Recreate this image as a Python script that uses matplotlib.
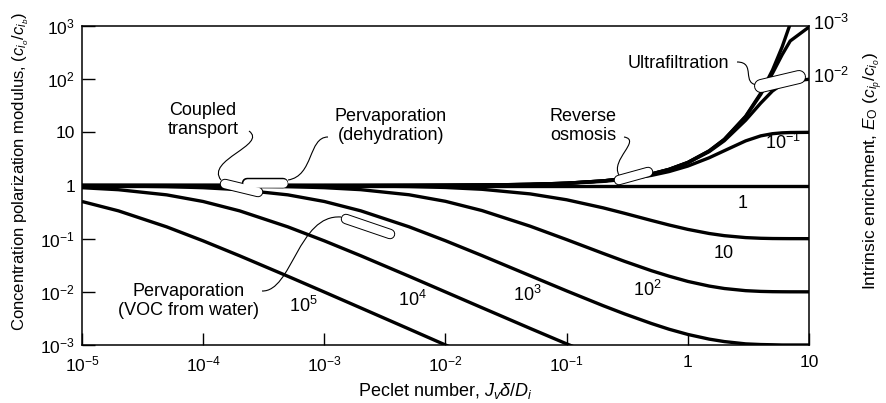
import numpy as np
import matplotlib
matplotlib.use("Agg")
import matplotlib.pyplot as plt
from matplotlib.path import Path
from matplotlib.patches import PathPatch

plt.rcParams['font.family'] = ['Liberation Sans', 'DejaVu Sans']
plt.rcParams['mathtext.fontset'] = 'custom'
plt.rcParams['mathtext.rm'] = 'Liberation Sans'
plt.rcParams['mathtext.it'] = 'Liberation Sans:italic'
plt.rcParams['mathtext.bf'] = 'Liberation Sans:bold'

nan = np.nan
# Peclet number sample points
peclet = [1e-5, 2e-5, 5e-5, 1e-4, 2e-4, 5e-4, 1e-3, 2e-3, 5e-3, 1e-2, 2e-2, 5e-2,
          0.1, 0.2, 0.3, 0.5, 0.7, 1, 1.5, 2, 3, 4, 5, 6, 7, 10]

# concentration polarization modulus for each intrinsic enrichment E0
mod_E0_0 = [1.0, 1.0, 1.0, 1.0001, 1.0002, 1.0005, 1.001, 1.002, 1.005, 1.01, 1.0202, 1.0513,
            1.1052, 1.2214, 1.3499, 1.6487, 2.0138, 2.7183, 4.4817, 7.389, 20.09, 54.6, 148.4,
            403.4, 1096.6, nan]
mod_E0_1em3 = [1.0, 1.0, 1.0, 1.0001, 1.0002, 1.0005, 1.001, 1.002, 1.005, 1.01, 1.0202, 1.0512,
               1.1050, 1.2211, 1.3494, 1.6476, 2.0117, 2.7136, 4.466, 7.342, 19.71, 51.82, 129.4,
               287.7, 523.3, 956.6]
mod_E0_1em2 = [1.0, 1.0, 1.0, 1.0001, 1.0002, 1.0005, 1.001, 1.002, 1.005, 1.01, 1.0200, 1.0507,
               1.1040, 1.2187, 1.3452, 1.6381, 1.9935, 2.6724, 4.331, 6.945, 16.87, 35.55, 59.99,
               80.30, 91.72, 99.55]
mod_E0_1em1 = [1.0, 1.0, 1.0, 1.0001, 1.0002, 1.0005, 1.0009, 1.0018, 1.0045, 1.009, 1.0181, 1.0459,
               1.0937, 1.1949, 1.3042, 1.5483, 1.8284, 2.3197, 3.324, 4.509, 6.906, 8.585, 9.428,
               9.782, 9.918, 9.996]
mod_E0_1 = [1.0] * 26
mod_E0_10 = [0.9999, 0.9998, 0.9996, 0.9991, 0.9982, 0.9955, 0.9911, 0.9823, 0.9570, 0.9178, 0.8488,
             0.6950, 0.5387, 0.3800, 0.3001, 0.2202, 0.1808, 0.1495, 0.1251, 0.1139, 0.1047,
             0.1017, 0.1006, 0.1003, 0.1001, 0.1000]
mod_E0_1e2 = [0.9990, 0.9980, 0.9951, 0.9902, 0.9806, 0.9529, 0.9100, 0.8349, 0.6695, 0.5038, 0.3378,
              0.1716, 0.0960, 0.0528, 0.0375, 0.0250, 0.0197, 0.0157, 0.01284, 0.01155, 0.01052,
              0.01019, 0.01007, 0.01003, 0.01001, 0.0100]
mod_E0_1e3 = [0.9901, 0.9804, 0.9524, 0.9092, 0.8335, 0.6669, 0.5004, 0.3338, 0.1672, 0.0914, 0.0481,
              0.0201, 0.01041, 0.00549, 0.00385, 0.00254, 0.00198, 0.00158, 0.00129, 0.00116,
              0.00105, 0.00102, 0.00101, 0.00100, 0.00100, 0.00100]
mod_E0_1e4 = [0.9091, 0.8334, 0.6667, 0.5001, 0.3334, 0.1667, 0.0910, 0.0477, 0.01966, 0.00995,
              0.00503, 0.00205, 0.00105, 0.000551] + [nan] * 12
mod_E0_1e5 = [0.5000, 0.3333, 0.1667, 0.0909, 0.0476, 0.01962, 0.00991, 0.00498, 0.00200, 0.00100,
              0.000505] + [nan] * 15

series = [mod_E0_0, mod_E0_1em3, mod_E0_1em2, mod_E0_1em1, mod_E0_1, mod_E0_10,
          mod_E0_1e2, mod_E0_1e3, mod_E0_1e4, mod_E0_1e5]

x_ticks = [1e-5, 1e-4, 1e-3, 1e-2, 1e-1, 1, 10]
x_ticklabels = [r'$10^{-5}$', r'$10^{-4}$', r'$10^{-3}$', r'$10^{-2}$', r'$10^{-1}$', '1', '10']
y_ticks = [1e-3, 1e-2, 1e-1, 1, 10, 1e2, 1e3]
y_ticklabels = [r'$10^{-3}$', r'$10^{-2}$', r'$10^{-1}$', '1', '10', r'$10^{2}$', r'$10^{3}$']

W, H = 887, 403
L, R, T, B = 82, 809, 26, 345
fig = plt.figure(figsize=(W / 100, H / 100), dpi=100)
ax = fig.add_axes([L / W, 1 - B / H, (R - L) / W, (B - T) / H])


def P(px, py):
    return ((px - L) / (R - L), (B - py) / (B - T))


for s in series:
    ax.plot(peclet, s, color='black', lw=2.4, solid_capstyle='butt', zorder=3)

ax.set_xscale('log')
ax.set_yscale('log')
ax.set_xlim(1e-5, 10)
ax.set_ylim(1e-3, 1e3)
ax.set_xticks(x_ticks)
ax.set_xticklabels(x_ticklabels)
ax.set_yticks(y_ticks)
ax.set_yticklabels(y_ticklabels)
ax.minorticks_off()
ax.tick_params(direction='in', length=9, width=1.0, labelsize=12.5, pad=5)
ax.tick_params(axis='x', pad=7)
for sp in ax.spines.values():
    sp.set_linewidth(1.1)

fs = 13
fig.text(445 / W, 1 - 391 / H, r'Peclet number, $J_v\delta/D_i$', ha='center', va='center',
         fontsize=fs)
fig.text(21 / W, 1 - 172 / H, r'Concentration polarization modulus, $(c_{i_o}/c_{i_b})$',
         rotation=90, ha='center', va='center', fontsize=12)
fig.text(873 / W, 1 - 171 / H, r'Intrinsic enrichment, $E_\mathrm{O}$ $(c_{i_p}/c_{i_o})$',
         rotation=90, ha='center', va='center', fontsize=12.5)

# curve labels
curve_labels = [(r'$10^{5}$', 303, 306), (r'$10^{4}$', 412, 300), (r'$10^{3}$', 527, 295),
                (r'$10^{2}$', 647, 290), ('10', 724, 254), ('1', 743, 203),
                (r'$10^{-1}$', 783, 143)]
for txt, px, py in curve_labels:
    ax.text(*P(px, py), txt, transform=ax.transAxes, ha='center', va='center', fontsize=fs)
for txt, py in [(r'$10^{-3}$', 24), (r'$10^{-2}$', 77)]:
    ax.text(*P(813, py), txt, transform=ax.transAxes, ha='left', va='center', fontsize=fs,
            clip_on=False)

# process labels
proc = [('Coupled\ntransport', 203, 120, 'center'),
        ('Pervaporation\n(dehydration)', 391, 126, 'center'),
        ('Reverse\nosmosis', 550, 126, 'left'),
        ('Ultrafiltration', 678, 63, 'center'),
        ('Pervaporation\n(VOC from water)', 189, 301, 'center')]
for txt, px, py, ha in proc:
    ax.text(*P(px, py), txt, transform=ax.transAxes, ha=ha, va='center', fontsize=fs,
            linespacing=1.1)

# capsules (operating regions)
caps = [((225, 184), (258, 192), 8.5),
        ((247, 183), (283, 183), 8.5),
        ((346, 219), (390, 234), 8.5),
        ((619, 180), (648, 172), 8.5),
        ((761, 86), (799, 77), 12)]
for (x0, y0), (x1, y1), th in caps:
    xs = [P(x0, y0)[0], P(x1, y1)[0]]
    ys = [P(x0, y0)[1], P(x1, y1)[1]]
    ax.plot(xs, ys, transform=ax.transAxes, color='black', lw=th * 0.72 + 1.4,
            solid_capstyle='round', zorder=5, clip_on=False)
    ax.plot(xs, ys, transform=ax.transAxes, color='white', lw=th * 0.72,
            solid_capstyle='round', zorder=6, clip_on=False)

# leader lines
leaders = [[(249, 131), (268, 145), (205, 160), (221, 180)],
           [(328, 137), (308, 137), (314, 176), (288, 180)],
           [(262, 291), (292, 292), (298, 214), (341, 217)],
           [(624, 137), (642, 140), (610, 160), (619, 175)],
           [(737, 62), (757, 62), (740, 85), (759, 85)]]
for pts in leaders:
    verts = [P(*p) for p in pts]
    path = Path(verts, [Path.MOVETO, Path.CURVE4, Path.CURVE4, Path.CURVE4])
    ax.add_patch(PathPatch(path, transform=ax.transAxes, fill=False, lw=0.8,
                           edgecolor='black', zorder=4))

fig.savefig('out.png', dpi=100)
